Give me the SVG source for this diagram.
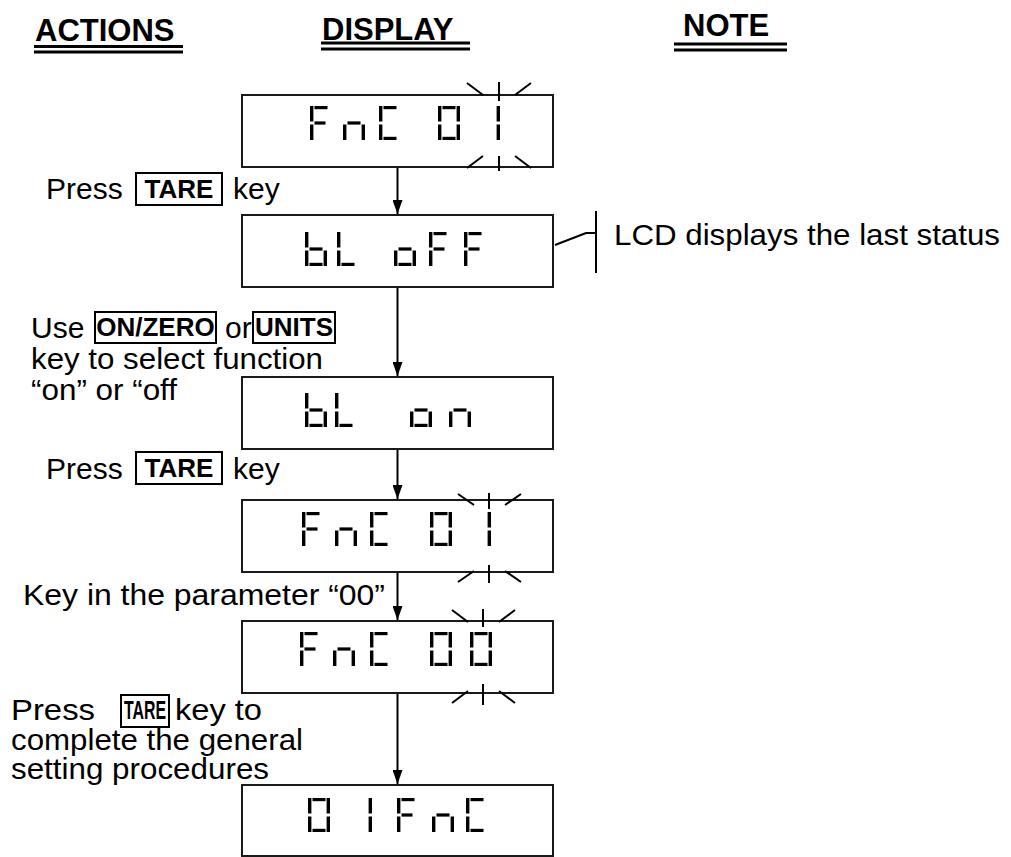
<svg xmlns="http://www.w3.org/2000/svg" width="1011" height="857" viewBox="0 0 1011 857">
<style>
.t{font-family:"Liberation Sans",Arial,Helvetica,sans-serif;font-size:30px;fill:#000}
.h{font-family:"Liberation Sans",Arial,Helvetica,sans-serif;font-size:31px;font-weight:bold;fill:#000}
.kt{font-family:"Liberation Sans",Arial,Helvetica,sans-serif;font-size:26px;font-weight:bold;fill:#000}
.box{fill:#fff;stroke:#1a1a1a;stroke-width:2}
.key{fill:none;stroke:#000;stroke-width:2}
.ul{stroke:#000;stroke-width:3}
.bl{stroke:#000;stroke-width:2;fill:none}
.conn{stroke:#000;stroke-width:2;fill:none}
.seg{fill:#000}
</style>
<defs>
<marker id="arr" viewBox="0 0 14 10" refX="14" refY="5" markerWidth="14" markerHeight="10" markerUnits="userSpaceOnUse" orient="auto">
<path d="M0,0 L14,5 L0,10 z" fill="#000"/>
</marker>
<g id="gF" class="seg"><rect x="4.5" y="0" width="13" height="3.2"/><rect x="0" y="0" width="3.4" height="15.5"/><rect x="0" y="18.5" width="3.4" height="15.5"/><rect x="4.5" y="15.4" width="11" height="3.2"/></g>
<g id="gn" class="seg"><rect x="4.5" y="15.4" width="13" height="3.2"/><rect x="0" y="18.5" width="3.4" height="15.5"/><rect x="18.6" y="18.5" width="3.4" height="15.5"/></g>
<g id="gC" class="seg"><rect x="4.5" y="0" width="13" height="3.2"/><rect x="0" y="0" width="3.4" height="15.5"/><rect x="0" y="18.5" width="3.4" height="15.5"/><rect x="4.5" y="30.8" width="13" height="3.2"/></g>
<g id="g0" class="seg"><rect x="4.5" y="0" width="13" height="3.2"/><rect x="18.6" y="0" width="3.4" height="15.5"/><rect x="18.6" y="18.5" width="3.4" height="15.5"/><rect x="4.5" y="30.8" width="13" height="3.2"/><rect x="0" y="18.5" width="3.4" height="15.5"/><rect x="0" y="0" width="3.4" height="15.5"/></g>
<g id="g1" class="seg"><rect x="18.6" y="0" width="3.4" height="15.5"/><rect x="18.6" y="18.5" width="3.4" height="15.5"/></g>
<g id="gb" class="seg"><rect x="0" y="0" width="3.4" height="15.5"/><rect x="0" y="18.5" width="3.4" height="15.5"/><rect x="4.5" y="15.4" width="13" height="3.2"/><rect x="18.6" y="18.5" width="3.4" height="15.5"/><rect x="4.5" y="30.8" width="13" height="3.2"/></g>
<g id="gL" class="seg"><rect x="0" y="0" width="3.4" height="15.5"/><rect x="0" y="18.5" width="3.4" height="15.5"/><rect x="4.5" y="30.8" width="13" height="3.2"/></g>
<g id="go" class="seg"><rect x="4.5" y="15.4" width="13" height="3.2"/><rect x="0" y="18.5" width="3.4" height="15.5"/><rect x="18.6" y="18.5" width="3.4" height="15.5"/><rect x="4.5" y="30.8" width="13" height="3.2"/></g>
</defs>
<rect width="1011" height="857" fill="#fff"/>

<g id="headers">
<text class="h" x="35" y="41">ACTIONS</text>
<line class="ul" x1="34" y1="46.5" x2="183" y2="46.5"/><line class="ul" x1="34" y1="52" x2="183" y2="52"/>
<text class="h" x="322" y="40">DISPLAY</text>
<line class="ul" x1="321" y1="43" x2="470" y2="43"/><line class="ul" x1="321" y1="49" x2="470" y2="49"/>
<text class="h" x="683" y="36">NOTE</text>
<line class="ul" x1="674" y1="44" x2="787" y2="44"/><line class="ul" x1="674" y1="50" x2="787" y2="50"/>
</g>

<g id="connectors">
<line class="conn" x1="397.5" y1="167" x2="397.5" y2="214" marker-end="url(#arr)"/>
<line class="conn" x1="397.5" y1="287" x2="397.5" y2="376" marker-end="url(#arr)"/>
<line class="conn" x1="397.5" y1="449" x2="397.5" y2="499" marker-end="url(#arr)"/>
<line class="conn" x1="397.5" y1="572" x2="397.5" y2="620" marker-end="url(#arr)"/>
<line class="conn" x1="397.5" y1="693" x2="397.5" y2="784" marker-end="url(#arr)"/>
<polyline class="conn" points="555,245 586,233 596,233"/>
<line class="conn" x1="596" y1="211" x2="596" y2="273"/>
</g>

<g id="display1">
<rect class="box" x="242" y="95" width="311" height="72"/>
<use href="#gF" x="310" y="106"/><use href="#gn" x="343" y="106"/><use href="#gC" x="379" y="106"/><use href="#g0" x="438" y="106"/><use href="#g1" x="478" y="106"/>
<g class="bl"><line x1="467" y1="83" x2="483" y2="95"/><line x1="515" y1="95" x2="531" y2="83"/><line x1="499" y1="82" x2="499" y2="101"/>
<line x1="467" y1="168" x2="483" y2="156"/><line x1="515" y1="156" x2="531" y2="168"/><line x1="499" y1="156" x2="499" y2="171"/></g>
</g>

<g id="display2">
<rect class="box" x="242" y="215" width="311" height="72"/>
<use href="#gb" x="305" y="232"/><use href="#gL" x="337" y="232"/><use href="#go" x="394" y="232"/><use href="#gF" x="429" y="232"/><use href="#gF" x="464" y="232"/>
</g>

<g id="display3">
<rect class="box" x="242" y="377" width="311" height="72"/>
<use href="#gb" x="305" y="393"/><use href="#gL" x="335" y="393"/><use href="#go" x="410" y="393"/><use href="#gn" x="449" y="393"/>
</g>

<g id="display4">
<rect class="box" x="242" y="500" width="311" height="72"/>
<use href="#gF" x="302" y="512"/><use href="#gn" x="335" y="512"/><use href="#gC" x="370" y="512"/><use href="#g0" x="430" y="512"/><use href="#g1" x="469" y="512"/>
<g class="bl"><line x1="458" y1="494" x2="474" y2="505"/><line x1="505" y1="505" x2="521" y2="494"/><line x1="489" y1="493" x2="489" y2="509"/>
<line x1="458" y1="582" x2="474" y2="571"/><line x1="505" y1="571" x2="521" y2="582"/><line x1="489" y1="565" x2="489" y2="583"/></g>
</g>

<g id="display5">
<rect class="box" x="242" y="621" width="311" height="72"/>
<use href="#gF" x="300" y="632"/><use href="#gn" x="333" y="632"/><use href="#gC" x="370" y="632"/><use href="#g0" x="430" y="632"/><use href="#g0" x="470" y="632"/>
<g class="bl"><line x1="452" y1="610" x2="468" y2="622"/><line x1="499" y1="622" x2="515" y2="610"/><line x1="483" y1="609" x2="483" y2="627"/>
<line x1="452" y1="703" x2="468" y2="691"/><line x1="499" y1="691" x2="515" y2="703"/><line x1="483" y1="684" x2="483" y2="705"/></g>
</g>

<g id="display6">
<rect class="box" x="242" y="785" width="311" height="71"/>
<use href="#g0" x="308" y="798"/><use href="#g1" x="350" y="798"/><use href="#gF" x="397" y="798"/><use href="#gn" x="432" y="798"/><use href="#gC" x="466" y="798"/>
</g>

<g id="action1">
<text class="t" x="46" y="199">Press</text>
<rect class="key" x="136" y="173" width="86" height="32"/>
<text class="kt" x="179" y="198" text-anchor="middle">TARE</text>
<text class="t" x="233" y="199">key</text>
</g>

<g id="action2">
<text class="t" x="31" y="338">Use</text>
<rect class="key" x="95" y="312" width="121" height="31"/>
<text class="kt" x="155.5" y="336" text-anchor="middle">ON/ZERO</text>
<text class="t" x="225" y="338">or</text>
<rect class="key" x="253" y="312" width="82" height="31"/>
<text class="kt" x="294" y="336" text-anchor="middle">UNITS</text>
<text class="t" x="31" y="369" textLength="292" lengthAdjust="spacingAndGlyphs">key to select function</text>
<text class="t" x="31" y="400" textLength="146" lengthAdjust="spacingAndGlyphs">“on” or “off</text>
</g>

<g id="action3">
<text class="t" x="46" y="479">Press</text>
<rect class="key" x="136" y="452" width="86" height="32"/>
<text class="kt" x="179" y="477" text-anchor="middle">TARE</text>
<text class="t" x="233" y="479">key</text>
</g>

<g id="action4">
<text class="t" x="23" y="605" textLength="362" lengthAdjust="spacingAndGlyphs">Key in the parameter “00”</text>
</g>

<g id="action5">
<text class="t" x="11" y="720" textLength="84" lengthAdjust="spacingAndGlyphs">Press</text>
<rect class="key" x="121" y="695" width="48" height="32"/>
<text class="kt" x="124" y="719" textLength="42" lengthAdjust="spacingAndGlyphs">TARE</text>
<text class="t" x="175" y="720" textLength="87" lengthAdjust="spacingAndGlyphs">key to</text>
<text class="t" x="11" y="750" textLength="292" lengthAdjust="spacingAndGlyphs">complete the general</text>
<text class="t" x="11" y="779" textLength="258" lengthAdjust="spacingAndGlyphs">setting procedures</text>
</g>

<g id="note1">
<text class="t" x="614" y="245" textLength="386" lengthAdjust="spacingAndGlyphs">LCD displays the last status</text>
</g>
</svg>
